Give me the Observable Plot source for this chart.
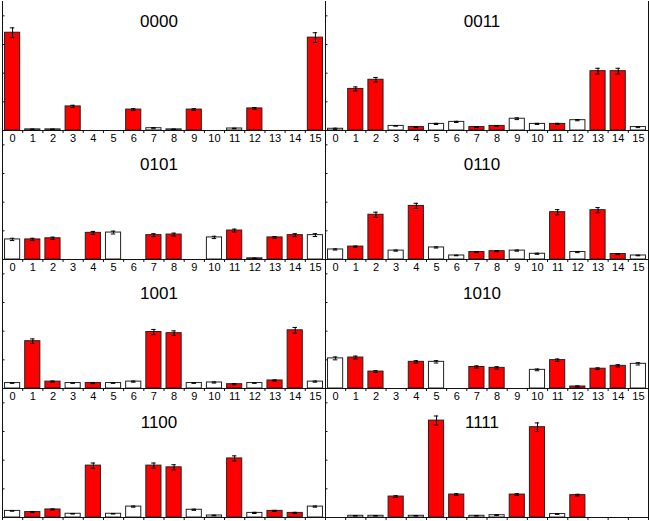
<!DOCTYPE html>
<html>
<head>
<meta charset="utf-8">
<script src="https://cdn.jsdelivr.net/npm/d3@7"></script>
<script src="https://cdn.jsdelivr.net/npm/@observablehq/plot@0.6"></script>
<style>
  html, body { margin: 0; padding: 0; background: #fff; overflow: hidden; }
  #chart { width: 649px; height: 521px; }
</style>
</head>
<body>
<div id="chart"></div>
<script>
// ---------- data ----------
const categories = [0,1,2,3,4,5,6,7,8,9,10,11,12,13,14,15];
const panelTitles = ["0000","0011","0101","0110","1001","1010","1100","1111"];
const yTickValues = [0, 0.1, 0.2, 0.3, 0.4];

const v0000 = [0.341,0.004,0.004,0.084,0,0,0.073,0.008,0.004,0.073,0,0.007,0.077,0,0,0.324];
const e0000 = [0.017,0.001,0.001,0.004,0,0,0.003,0.002,0.001,0.003,0,0.001,0.003,0,0,0.017];
const r0000 = [1,0,0,1,0,0,1,0,0,1,0,0,1,0,0,1];

const v0011 = [0.006,0.145,0.177,0.016,0.012,0.023,0.030,0.012,0.016,0.041,0.023,0.023,0.036,0.207,0.207,0.012];
const e0011 = [0.002,0.007,0.008,0.001,0.002,0.002,0.002,0.002,0.001,0.003,0.002,0.002,0.002,0.010,0.010,0.002];
const r0011 = [0,1,1,0,1,0,0,1,1,0,0,1,0,1,1,0];

const v0101 = [0.070,0.070,0.074,0,0.093,0.094,0,0.085,0.087,0,0.077,0.101,0.004,0.077,0.085,0.085];
const e0101 = [0.004,0.004,0.004,0,0.005,0.005,0,0.005,0.005,0,0.004,0.005,0.001,0.003,0.005,0.005];
const r0101 = [0,1,1,0,1,0,0,1,1,0,0,1,1,1,1,0];

const v0110 = [0.035,0.045,0.156,0.031,0.187,0.042,0.014,0.026,0.029,0.031,0.020,0.165,0.026,0.172,0.019,0.014];
const e0110 = [0.002,0.002,0.009,0.002,0.009,0.002,0.001,0.002,0.002,0.002,0.002,0.009,0.002,0.009,0.002,0.001];
const r0110 = [0,1,1,0,1,0,0,1,1,0,0,1,0,1,1,0];

const v1001 = [0.019,0.165,0.024,0.019,0.019,0.019,0.024,0.197,0.193,0.019,0.021,0.015,0.019,0.028,0.203,0.024];
const e1001 = [0.001,0.008,0.002,0.001,0.002,0.001,0.002,0.009,0.008,0.001,0.002,0.002,0.001,0.002,0.010,0.002];
const r1001 = [0,1,1,0,1,0,0,1,1,0,0,1,0,1,1,0];

const v1010 = [0.105,0.108,0.059,0,0.093,0.093,0,0.075,0.072,0,0.065,0.099,0.007,0.069,0.079,0.086];
const e1010 = [0.005,0.005,0.003,0,0.004,0.004,0,0.004,0.004,0,0.003,0.004,0.002,0.003,0.004,0.004];
const r1010 = [0,1,1,0,1,0,0,1,1,0,0,1,1,1,1,0];

const v1100 = [0.023,0.019,0.028,0.013,0.181,0.013,0.038,0.181,0.175,0.027,0.007,0.206,0.016,0.023,0.016,0.038];
const e1100 = [0.001,0.002,0.002,0.001,0.009,0.001,0.002,0.009,0.009,0.002,0.001,0.009,0.002,0.002,0.002,0.002];
const r1100 = [0,1,1,0,1,0,0,1,1,0,0,1,0,1,1,0];

const v1111 = [0,0.006,0.006,0.073,0.006,0.338,0.080,0.006,0.008,0.080,0.315,0.012,0.078,0,0,0];
const e1111 = [0,0.001,0.001,0.003,0.001,0.016,0.003,0.001,0.001,0.003,0.015,0.001,0.003,0,0,0];
const r1111 = [0,0,0,1,0,1,1,0,0,1,1,0,1,0,0,0];

const panelValues = [v0000, v0011, v0101, v0110, v1001, v1010, v1100, v1111];
const panelErrors = [e0000, e0011, e0101, e0110, e1001, e1010, e1100, e1111];
const panelRed    = [r0000, r0011, r0101, r0110, r1001, r1010, r1100, r1111];

// ---------- tidy table ----------
const rows = [];
panelTitles.forEach((t, k) => {
  categories.forEach((c, i) => {
    rows.push({title: t, col: k % 2, row: Math.floor(k / 2), cat: c,
               v: panelValues[k][i], e: panelErrors[k][i], red: panelRed[k][i] === 1});
  });
});
const titles = panelTitles.map((t, k) => ({title: t, col: k % 2, row: Math.floor(k / 2)}));
const boundaries = categories.map(c => c - 0.5).concat([categories[categories.length - 1] + 0.5]);
const nRows = Math.ceil(panelTitles.length / 2);
// tick labels: the bottom row's labels fall outside the picture in the reference
const tickLabels = rows.filter(d => d.row < nRows - 1);

// ---------- layout ----------
const W = 649, H = 521;
const mL = 1, mR = 1;
const facetW = (W - mL - mR) / 2;
const half = 0.375;   // half bar width in category units
const cap = 0.11;     // half cap width

const bars = rows.filter(d => d.v > 0);
const errs = rows.filter(d => d.e > 0 && d.v > 0);

const chart = Plot.plot({
  width: W, height: H,
  marginTop: 0, marginBottom: 4, marginLeft: mL, marginRight: mR,
  style: {fontFamily: "'Liberation Sans', Arial, sans-serif", fontSize: "11px", color: "black", background: "white"},
  x: {domain: [-0.5, 15.5], axis: null},
  y: {domain: [0, 0.45], axis: null},
  fx: {domain: [0, 1], padding: 0, axis: null},
  fy: {domain: [0, 1, 2, 3], padding: 0, axis: null},
  marks: [
    Plot.rect(bars.filter(d => !d.red), {fx: "col", fy: "row", x1: d => d.cat - half, x2: d => d.cat + half, y1: 0, y2: "v",
      fill: "#ffffff", stroke: "#222", strokeWidth: 1}),
    Plot.rect(bars.filter(d => d.red), {fx: "col", fy: "row", x1: d => d.cat - half, x2: d => d.cat + half, y1: 0, y2: "v",
      fill: "#ff0000", stroke: "#222", strokeWidth: 1}),
    Plot.ruleX(errs, {fx: "col", fy: "row", x: "cat", y1: d => d.v - d.e, y2: d => d.v + d.e, stroke: "#000", strokeWidth: 1}),
    Plot.ruleY(errs, {fx: "col", fy: "row", y: d => d.v + d.e, x1: d => d.cat - cap, x2: d => d.cat + cap, stroke: "#000", strokeWidth: 1}),
    Plot.ruleY(errs, {fx: "col", fy: "row", y: d => d.v - d.e, x1: d => d.cat - cap, x2: d => d.cat + cap, stroke: "#000", strokeWidth: 1}),
    // panel edges
    Plot.ruleX([-0.5, 15.5], {stroke: "#111", strokeWidth: 1}),
    Plot.ruleY([0], {stroke: "#111", strokeWidth: 1}),
    // inward y ticks
    Plot.tickY(yTickValues, {y: d => d, insetRight: facetW - 3, stroke: "#111", strokeWidth: 1}),
    // x ticks at bin boundaries
    Plot.axisX({ticks: boundaries, tickSize: 3, tickFormat: () => "", facetAnchor: null, label: null, stroke: "#111"}),
    // x tick labels (rows whose labels are visible)
    Plot.text(tickLabels, {fx: "col", fy: "row", x: "cat", text: d => String(d.cat), frameAnchor: "bottom",
      lineAnchor: "top", dy: 4, fontSize: 11, fill: "#000"}),
    // titles
    Plot.text(titles.filter(d => d.row === 0), {fx: "col", fy: "row", text: "title", frameAnchor: "top", lineAnchor: "top",
      dy: 13, dx: -5, fontSize: 17, fill: "#000"}),
    Plot.text(titles.filter(d => d.row > 0), {fx: "col", fy: "row", text: "title", frameAnchor: "top", lineAnchor: "top",
      dy: 27, dx: -5, fontSize: 17, fill: "#000"})
  ]
});
document.getElementById("chart").appendChild(chart);
</script>
</body>
</html>
